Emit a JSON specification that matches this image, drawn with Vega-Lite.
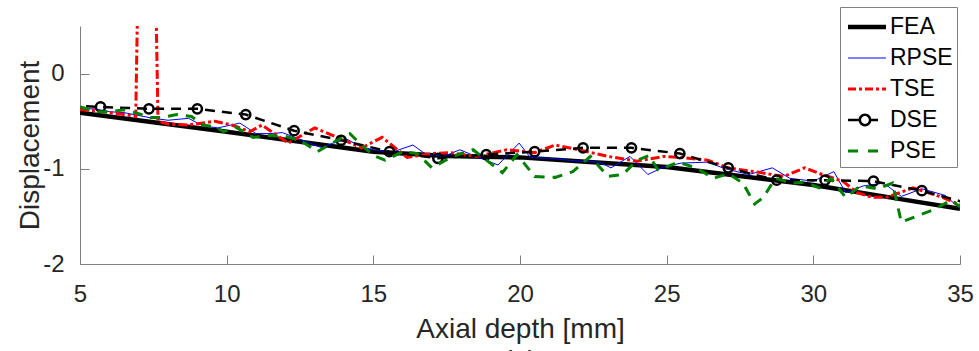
{
  "$schema": "https://vega.github.io/schema/vega-lite/v6.json",
  "width": 880,
  "height": 238,
  "autosize": {"type": "none"},
  "padding": {"left": 80, "top": 26, "right": 19, "bottom": 87},
  "background": "white",
  "title": {"text": "(a)", "orient": "bottom", "fontSize": 28, "fontWeight": "normal", "color": "#262626", "font": "Liberation Sans", "offset": 5},
  "config": {
    "view": {"stroke": null},
    "font": "Liberation Sans",
    "axis": {
      "grid": false,
      "domainColor": "#808080",
      "tickColor": "#808080",
      "tickSize": -9,
      "labelFontSize": 24,
      "labelColor": "#262626",
      "titleFontSize": 28,
      "titleColor": "#262626",
      "titleFontWeight": "normal",
      "labelFlush": false,
      "labelOverlap": false
    }
  },
  "datasets": {
    "curves": [
      {"s": "FEA", "x": 5, "y": -0.41},
      {"s": "FEA", "x": 7.5, "y": -0.51},
      {"s": "FEA", "x": 10, "y": -0.61},
      {"s": "FEA", "x": 12.5, "y": -0.715},
      {"s": "FEA", "x": 15, "y": -0.82},
      {"s": "FEA", "x": 17.5, "y": -0.865},
      {"s": "FEA", "x": 20, "y": -0.88},
      {"s": "FEA", "x": 22.5, "y": -0.93},
      {"s": "FEA", "x": 25, "y": -0.98},
      {"s": "FEA", "x": 27.5, "y": -1.075},
      {"s": "FEA", "x": 30, "y": -1.17},
      {"s": "FEA", "x": 32.5, "y": -1.295},
      {"s": "FEA", "x": 35, "y": -1.42},

      {"s": "RPSE", "x": 5, "y": -0.37},
      {"s": "RPSE", "x": 5.5, "y": -0.37},
      {"s": "RPSE", "x": 6, "y": -0.4},
      {"s": "RPSE", "x": 6.5, "y": -0.41},
      {"s": "RPSE", "x": 7, "y": -0.44},
      {"s": "RPSE", "x": 7.5, "y": -0.47},
      {"s": "RPSE", "x": 8, "y": -0.49},
      {"s": "RPSE", "x": 8.7, "y": -0.47},
      {"s": "RPSE", "x": 9.2, "y": -0.55},
      {"s": "RPSE", "x": 9.7, "y": -0.57},
      {"s": "RPSE", "x": 10.45, "y": -0.52},
      {"s": "RPSE", "x": 11, "y": -0.63},
      {"s": "RPSE", "x": 11.5, "y": -0.63},
      {"s": "RPSE", "x": 11.9, "y": -0.62},
      {"s": "RPSE", "x": 12.5, "y": -0.69},
      {"s": "RPSE", "x": 13.25, "y": -0.78},
      {"s": "RPSE", "x": 13.7, "y": -0.72},
      {"s": "RPSE", "x": 14.1, "y": -0.69},
      {"s": "RPSE", "x": 14.6, "y": -0.77},
      {"s": "RPSE", "x": 15, "y": -0.8},
      {"s": "RPSE", "x": 15.6, "y": -0.83},
      {"s": "RPSE", "x": 16.35, "y": -0.75},
      {"s": "RPSE", "x": 16.8, "y": -0.85},
      {"s": "RPSE", "x": 17.4, "y": -0.87},
      {"s": "RPSE", "x": 17.95, "y": -0.8},
      {"s": "RPSE", "x": 18.5, "y": -0.87},
      {"s": "RPSE", "x": 19.25, "y": -0.96},
      {"s": "RPSE", "x": 19.97, "y": -0.73},
      {"s": "RPSE", "x": 20.35, "y": -0.88},
      {"s": "RPSE", "x": 21, "y": -0.89},
      {"s": "RPSE", "x": 22, "y": -0.92},
      {"s": "RPSE", "x": 22.7, "y": -0.93},
      {"s": "RPSE", "x": 23.1, "y": -0.99},
      {"s": "RPSE", "x": 23.75, "y": -0.87},
      {"s": "RPSE", "x": 24.36, "y": -1.06},
      {"s": "RPSE", "x": 24.9, "y": -0.98},
      {"s": "RPSE", "x": 25.5, "y": -0.94},
      {"s": "RPSE", "x": 26.4, "y": -0.93},
      {"s": "RPSE", "x": 27, "y": -1.0},
      {"s": "RPSE", "x": 27.8, "y": -1.06},
      {"s": "RPSE", "x": 28.6, "y": -0.99},
      {"s": "RPSE", "x": 29.2, "y": -1.1},
      {"s": "RPSE", "x": 30, "y": -1.13},
      {"s": "RPSE", "x": 30.7, "y": -1.03},
      {"s": "RPSE", "x": 31.1, "y": -1.25},
      {"s": "RPSE", "x": 31.7, "y": -1.18},
      {"s": "RPSE", "x": 32.4, "y": -1.15},
      {"s": "RPSE", "x": 33, "y": -1.29},
      {"s": "RPSE", "x": 33.7, "y": -1.21},
      {"s": "RPSE", "x": 34.5, "y": -1.28},
      {"s": "RPSE", "x": 35, "y": -1.42},

      {"s": "TSE", "x": 5, "y": -0.38},
      {"s": "TSE", "x": 5.5, "y": -0.39},
      {"s": "TSE", "x": 6, "y": -0.41},
      {"s": "TSE", "x": 6.5, "y": -0.43},
      {"s": "TSE", "x": 6.9, "y": -0.45},
      {"s": "TSE", "x": 7.27, "y": 6.4},
      {"s": "TSE", "x": 7.66, "y": -0.5},
      {"s": "TSE", "x": 8, "y": -0.53},
      {"s": "TSE", "x": 8.7, "y": -0.54},
      {"s": "TSE", "x": 9.6, "y": -0.5},
      {"s": "TSE", "x": 10.17, "y": -0.54},
      {"s": "TSE", "x": 10.8, "y": -0.61},
      {"s": "TSE", "x": 11.2, "y": -0.54},
      {"s": "TSE", "x": 12.1, "y": -0.73},
      {"s": "TSE", "x": 13, "y": -0.57},
      {"s": "TSE", "x": 13.7, "y": -0.66},
      {"s": "TSE", "x": 14.6, "y": -0.78},
      {"s": "TSE", "x": 15.3, "y": -0.67},
      {"s": "TSE", "x": 16.15, "y": -0.88},
      {"s": "TSE", "x": 17, "y": -0.84},
      {"s": "TSE", "x": 17.6, "y": -0.83},
      {"s": "TSE", "x": 18.5, "y": -0.87},
      {"s": "TSE", "x": 19.55, "y": -0.8},
      {"s": "TSE", "x": 20.5, "y": -0.83},
      {"s": "TSE", "x": 21.2, "y": -0.75},
      {"s": "TSE", "x": 22, "y": -0.8},
      {"s": "TSE", "x": 23, "y": -0.87},
      {"s": "TSE", "x": 24, "y": -0.92},
      {"s": "TSE", "x": 24.9, "y": -0.87},
      {"s": "TSE", "x": 25.5, "y": -0.88},
      {"s": "TSE", "x": 26.4, "y": -0.91},
      {"s": "TSE", "x": 27.1, "y": -0.99},
      {"s": "TSE", "x": 28.2, "y": -1.04},
      {"s": "TSE", "x": 29, "y": -1.08},
      {"s": "TSE", "x": 29.7, "y": -0.99},
      {"s": "TSE", "x": 30.3, "y": -1.06},
      {"s": "TSE", "x": 31, "y": -1.13},
      {"s": "TSE", "x": 31.5, "y": -1.25},
      {"s": "TSE", "x": 32, "y": -1.3},
      {"s": "TSE", "x": 32.5, "y": -1.3},
      {"s": "TSE", "x": 33.4, "y": -1.2},
      {"s": "TSE", "x": 34.4, "y": -1.3},
      {"s": "TSE", "x": 35, "y": -1.38},

      {"s": "DSE", "x": 4.05, "y": -0.33},
      {"s": "DSE", "x": 5.7, "y": -0.35},
      {"s": "DSE", "x": 7.35, "y": -0.37},
      {"s": "DSE", "x": 9.0, "y": -0.37},
      {"s": "DSE", "x": 10.65, "y": -0.43},
      {"s": "DSE", "x": 12.3, "y": -0.6},
      {"s": "DSE", "x": 13.9, "y": -0.7},
      {"s": "DSE", "x": 15.55, "y": -0.82},
      {"s": "DSE", "x": 17.2, "y": -0.89},
      {"s": "DSE", "x": 18.85, "y": -0.85},
      {"s": "DSE", "x": 20.5, "y": -0.82},
      {"s": "DSE", "x": 22.15, "y": -0.78},
      {"s": "DSE", "x": 23.8, "y": -0.78},
      {"s": "DSE", "x": 25.45, "y": -0.84},
      {"s": "DSE", "x": 27.1, "y": -0.99},
      {"s": "DSE", "x": 28.75, "y": -1.12},
      {"s": "DSE", "x": 30.4, "y": -1.12},
      {"s": "DSE", "x": 32.05, "y": -1.13},
      {"s": "DSE", "x": 33.7, "y": -1.23},
      {"s": "DSE", "x": 35.35, "y": -1.37},

      {"s": "PSE", "x": 5, "y": -0.35},
      {"s": "PSE", "x": 5.6, "y": -0.4},
      {"s": "PSE", "x": 6, "y": -0.4},
      {"s": "PSE", "x": 6.5, "y": -0.38},
      {"s": "PSE", "x": 7, "y": -0.42},
      {"s": "PSE", "x": 7.4, "y": -0.46},
      {"s": "PSE", "x": 7.8, "y": -0.46},
      {"s": "PSE", "x": 8.3, "y": -0.43},
      {"s": "PSE", "x": 8.8, "y": -0.45},
      {"s": "PSE", "x": 9.2, "y": -0.54},
      {"s": "PSE", "x": 9.6, "y": -0.56},
      {"s": "PSE", "x": 9.9, "y": -0.61},
      {"s": "PSE", "x": 10.3, "y": -0.56},
      {"s": "PSE", "x": 10.9, "y": -0.67},
      {"s": "PSE", "x": 11.5, "y": -0.65},
      {"s": "PSE", "x": 12, "y": -0.66},
      {"s": "PSE", "x": 12.5, "y": -0.7},
      {"s": "PSE", "x": 13.1, "y": -0.82},
      {"s": "PSE", "x": 13.6, "y": -0.73},
      {"s": "PSE", "x": 14.2, "y": -0.63},
      {"s": "PSE", "x": 14.6, "y": -0.75},
      {"s": "PSE", "x": 15, "y": -0.86},
      {"s": "PSE", "x": 15.4, "y": -0.91},
      {"s": "PSE", "x": 16, "y": -0.82},
      {"s": "PSE", "x": 16.5, "y": -0.84},
      {"s": "PSE", "x": 17, "y": -0.99},
      {"s": "PSE", "x": 17.7, "y": -0.87},
      {"s": "PSE", "x": 18.4, "y": -0.8},
      {"s": "PSE", "x": 18.9, "y": -0.92},
      {"s": "PSE", "x": 19.4, "y": -1.04},
      {"s": "PSE", "x": 19.9, "y": -0.85},
      {"s": "PSE", "x": 20.5, "y": -1.08},
      {"s": "PSE", "x": 21.2, "y": -1.09},
      {"s": "PSE", "x": 21.8, "y": -1.03},
      {"s": "PSE", "x": 22.4, "y": -0.87},
      {"s": "PSE", "x": 23, "y": -1.08},
      {"s": "PSE", "x": 23.5, "y": -1.06},
      {"s": "PSE", "x": 24, "y": -0.91},
      {"s": "PSE", "x": 24.4, "y": -0.86},
      {"s": "PSE", "x": 24.7, "y": -1.01},
      {"s": "PSE", "x": 25, "y": -0.98},
      {"s": "PSE", "x": 25.4, "y": -0.93},
      {"s": "PSE", "x": 26, "y": -0.99},
      {"s": "PSE", "x": 26.6, "y": -1.1},
      {"s": "PSE", "x": 27.1, "y": -1.05},
      {"s": "PSE", "x": 27.6, "y": -1.15},
      {"s": "PSE", "x": 28, "y": -1.37},
      {"s": "PSE", "x": 28.3, "y": -1.3},
      {"s": "PSE", "x": 28.7, "y": -1.1},
      {"s": "PSE", "x": 29.3, "y": -1.15},
      {"s": "PSE", "x": 29.7, "y": -1.14},
      {"s": "PSE", "x": 30.2, "y": -1.2},
      {"s": "PSE", "x": 30.6, "y": -1.1},
      {"s": "PSE", "x": 31.1, "y": -1.3},
      {"s": "PSE", "x": 31.6, "y": -1.18},
      {"s": "PSE", "x": 32.2, "y": -1.21},
      {"s": "PSE", "x": 32.7, "y": -1.15},
      {"s": "PSE", "x": 33, "y": -1.56},
      {"s": "PSE", "x": 33.5, "y": -1.5},
      {"s": "PSE", "x": 34.1, "y": -1.43},
      {"s": "PSE", "x": 34.7, "y": -1.33},
      {"s": "PSE", "x": 35, "y": -1.4}
    ]
  },
  "data": {"name": "curves"},
  "encoding": {
    "x": {
      "field": "x", "type": "quantitative",
      "scale": {"domain": [5, 35], "nice": false, "zero": false},
      "axis": {"values": [5, 10, 15, 20, 25, 30, 35], "title": "Axial depth [mm]", "labelPadding": 27, "titlePadding": 9}
    },
    "y": {
      "field": "y", "type": "quantitative",
      "scale": {"domain": [-2, 0.5], "nice": false, "zero": false},
      "axis": {"values": [-2, -1, 0], "labelExpr": "'' + datum.value", "title": "Displacement", "labelPadding": 25, "titlePadding": -2}
    }
  },
  "layer": [
    {
      "transform": [{"filter": "datum.s === 'FEA'"}],
      "mark": {"type": "line", "clip": true, "color": "#000000", "strokeWidth": 4.5}
    },
    {
      "transform": [{"filter": "datum.s === 'RPSE'"}],
      "mark": {"type": "line", "clip": true, "color": "#0000ff", "strokeWidth": 1}
    },
    {
      "transform": [{"filter": "datum.s === 'TSE'"}],
      "mark": {"type": "line", "clip": true, "color": "#ff0000", "strokeWidth": 3, "strokeDash": [9, 3, 3, 3]}
    },
    {
      "transform": [{"filter": "datum.s === 'DSE'"}],
      "mark": {"type": "line", "clip": true, "color": "#000000", "strokeWidth": 2.5, "strokeDash": [10, 7]}
    },
    {
      "transform": [{"filter": "datum.s === 'DSE'"}],
      "mark": {"type": "point", "clip": true, "shape": "circle", "size": 85, "filled": false, "stroke": "#000000", "strokeWidth": 2.5, "opacity": 1}
    },
    {
      "transform": [{"filter": "datum.s === 'PSE'"}],
      "mark": {"type": "line", "clip": true, "color": "#008000", "strokeWidth": 3, "strokeDash": [10, 8]}
    },
    {
      "transform": [{"filter": "datum.s === 'none'"}],
      "mark": {"type": "point", "filled": true, "opacity": 1},
      "encoding": {
        "color": {
          "field": "s", "type": "nominal",
          "scale": {"domain": ["FEA", "RPSE", "TSE", "DSE", "PSE"], "range": ["#000000", "#0000ff", "#ff0000", "#000000", "#008000"]},
          "legend": {
            "title": null,
            "orient": "none",
            "legendX": 760,
            "legendY": -19,
            "symbolSize": 900,
            "labelFontSize": 23,
            "labelColor": "#000000",
            "labelFont": "Liberation Sans",
            "labelOffset": 14,
            "labelExpr": "datum.label + ' '",
            "padding": 4,
            "rowPadding": 3,
            "strokeColor": "#808080",
            "fillColor": "#ffffff",
            "symbolOpacity": 1
          }
        },
        "shape": {
          "field": "s", "type": "nominal",
          "scale": {
            "domain": ["FEA", "RPSE", "TSE", "DSE", "PSE"],
            "range": [
              "M-0.8,-0.15H1.73V0.15H-0.8Z",
              "M-0.8,-0.035H1.73V0.035H-0.8Z",
              "M-0.8,-0.1H-0.267V0.1H-0.8Z M-0.067,-0.1H0.133V0.1H-0.067Z M0.333,-0.1H0.867V0.1H0.333Z M1.067,-0.1H1.267V0.1H1.067Z M1.467,-0.1H1.73V0.1H1.467Z",
              "M-0.8,-0.085H-0.1V0.085H-0.8Z M0.76,-0.085H1.2V0.085H0.76Z M0.763,0A0.43,0.43 0 1,1 -0.097,0A0.43,0.43 0 1,1 0.763,0Z M0.593,0A0.26,0.26 0 1,0 0.073,0A0.26,0.26 0 1,0 0.593,0Z",
              "M-0.8,-0.1H-0.133V0.1H-0.8Z M0.533,-0.1H1.2V0.1H0.533Z"
            ]
          }
        }
      }
    }
  ]
}
